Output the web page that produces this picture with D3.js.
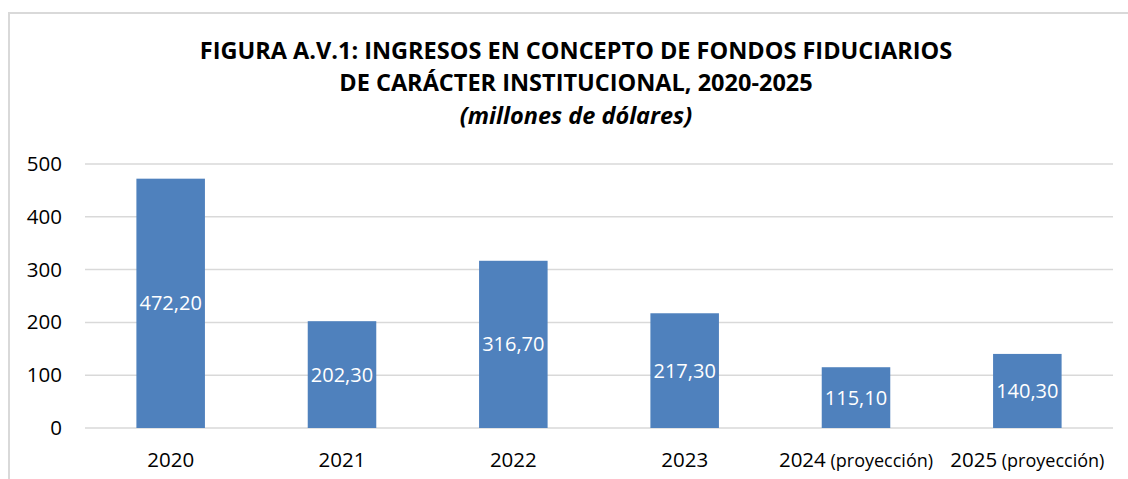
<!DOCTYPE html>
<html>
<head>
<meta charset="utf-8">
<script src="https://cdn.jsdelivr.net/npm/d3@7"></script>
<style>
  body { margin: 0; background: #fff; }
  svg { display: block; }
</style>
</head>
<body>
<div id="chart"></div>
<script>
const years = ["2020", "2021", "2022", "2023", "2024", "2025"];
const notes = ["", "", "", "", "(proyección)", "(proyección)"];
const values = [472.20, 202.30, 316.70, 217.30, 115.10, 140.30];
const yTicks = [0, 100, 200, 300, 400, 500];

const titleLines = [
  "FIGURA A.V.1: INGRESOS EN CONCEPTO DE FONDOS FIDUCIARIOS",
  "DE CARÁCTER INSTITUCIONAL, 2020-2025"
];
const subtitle = "(millones de dólares)";

(function bar(){
let height = 479,
    width = 1128,
    margin = ({top: 164, right: 15, bottom: 51, left: 85});

const font = "'Open Sans', sans-serif";

const svg = d3.select("#chart")
    .append("svg")
    .attr("width", width)
    .attr("height", height);

// frame
svg.append("path")
    .attr("d", `M9,${height} V13 H${width}`)
    .attr("fill", "none")
    .attr("stroke", "#d9d9d9")
    .attr("stroke-width", 2);

// title
svg.selectAll(".title")
    .data(titleLines)
    .join("text")
    .attr("class", "title")
    .attr("x", 576)
    .attr("y", (d, i) => 59 + i * 32)
    .attr("text-anchor", "middle")
    .style("font-family", font)
    .style("font-weight", "bold")
    .style("font-size", "23.5px")
    .style("fill", "#000")
    .text(d => d);

svg.append("text")
    .attr("x", 576)
    .attr("y", 124)
    .attr("text-anchor", "middle")
    .style("font-family", font)
    .style("font-weight", "bold")
    .style("font-style", "italic")
    .style("font-size", "23.5px")
    .text(subtitle);

let x = d3.scaleBand()
    .domain(years)
    .range([margin.left, width - margin.right])
    .paddingInner(0.6)
    .paddingOuter(0.3);

let y = d3.scaleLinear()
    .domain([0, 500])
    .range([height - margin.bottom, margin.top]);

// gridlines
svg.append("g")
    .selectAll("line")
    .data(yTicks)
    .join("line")
    .attr("x1", margin.left)
    .attr("x2", width - margin.right)
    .attr("y1", d => y(d))
    .attr("y2", d => y(d))
    .attr("stroke", "#d9d9d9")
    .attr("stroke-width", 1.5);

const yAxis = g => g
    .attr("transform", `translate(${margin.left - 23},0)`)
    .call(d3.axisLeft(y).tickValues(yTicks).tickSize(0).tickPadding(0))
    .call(g => g.select(".domain").remove())
    .call(g => g.selectAll("text")
        .style("font-family", font)
        .style("font-size", "20.5px")
        .style("fill", "#000"));

svg.append("g")
    .call(yAxis);

let bar = svg.selectAll(".bar")
    .data(values)
    .join("g")
    .attr("class", "bar");

bar.append("rect")
    .attr("fill", "#4f81bd")
    .attr("x", (d, i) => x(years[i]))
    .attr("width", x.bandwidth())
    .attr("y", d => y(d))
    .attr("height", d => y(0) - y(d));

bar.append("text")
    .text(d => d.toFixed(2).replace(".", ","))
    .attr("x", (d, i) => x(years[i]) + x.bandwidth() / 2)
    .attr("y", d => (y(d) + y(0)) / 2)
    .attr("dy", "0.35em")
    .attr("text-anchor", "middle")
    .style("font-family", font)
    .style("font-size", "20px")
    .style("fill", "#fff");

// x labels
const xl = svg.append("g")
    .selectAll("text")
    .data(years)
    .join("text")
    .attr("x", d => x(d) + x.bandwidth() / 2)
    .attr("y", 467)
    .attr("text-anchor", "middle")
    .style("font-family", font)
    .style("fill", "#000");

xl.append("tspan")
    .style("font-size", "20.5px")
    .text(d => d);

xl.append("tspan")
    .style("font-size", "18px")
    .text((d, i) => notes[i] ? " " + notes[i] : "");
})();
</script>
</body>
</html>
